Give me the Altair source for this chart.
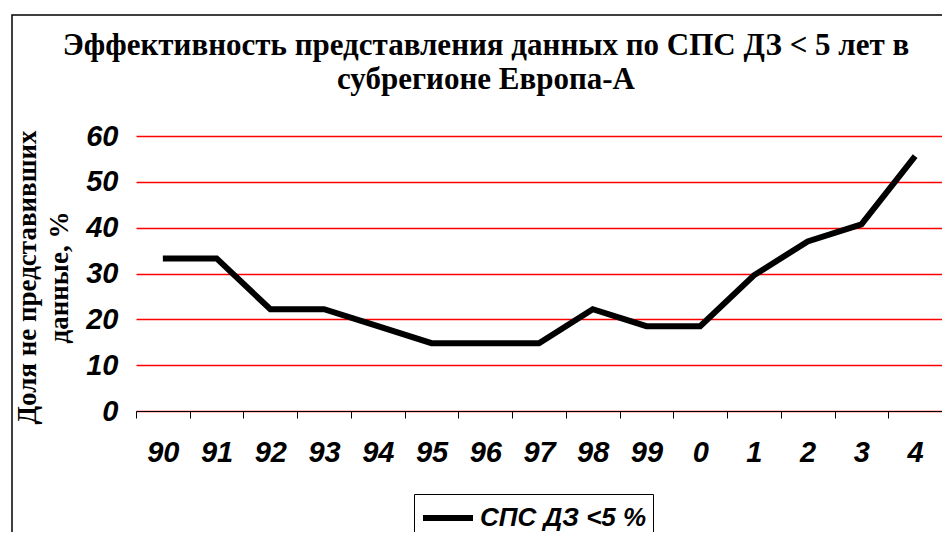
import altair as alt
import pandas as pd

years = ["90", "91", "92", "93", "94", "95", "96", "97", "98", "99", "0", "1", "2", "3", "4"]
values = [33.3, 33.3, 22.2, 22.2, 18.5, 14.8, 14.8, 14.8, 22.2, 18.5, 18.5, 29.6, 37.0, 40.7, 55.6]
series_name = "СПС ДЗ <5 %"
y_ticks = [0, 10, 20, 30, 40, 50, 60]

title_lines = ["Эффективность представления данных по СПС ДЗ < 5 лет в", "субрегионе Европа-А"]
y_title_lines = ["Доля не представивших", "данные, %"]

df = pd.DataFrame({"year": years, "value": values, "series": [series_name] * len(years)})

sans = "Liberation Sans"
serif = "Liberation Serif"

frame = alt.Chart(alt.Data(values=[{}])).mark_rect(
    fill=None, fillOpacity=0, stroke="black", strokeWidth=1.5
).encode(
    x=alt.value(-124), x2=alt.value(1000), y=alt.value(-121), y2=alt.value(600)
)

line = alt.Chart(df).mark_line(strokeWidth=6, color="black", strokeJoin="miter").encode(
    x=alt.X(
        "year:N",
        sort=years,
        bandPosition=0.5,
        scale=alt.Scale(type="band", paddingInner=0, paddingOuter=0),
        axis=alt.Axis(
            title=None,
            labelAngle=0,
            tickBand="extent",
            domainColor="black",
            domainWidth=1,
            tickColor="black",
            tickSize=7,
            labelFont=sans,
            labelFontSize=29,
            labelFontWeight="bold",
            labelFontStyle="italic",
            labelColor="black",
            labelPadding=20,
            grid=False,
        ),
    ),
    y=alt.Y(
        "value:Q",
        scale=alt.Scale(domain=[0, 60], nice=False),
        axis=alt.Axis(
            values=y_ticks,
            title=y_title_lines,
            titleFont=serif,
            titleFontSize=27,
            titleFontWeight="bold",
            titleColor="black",
            titleLineHeight=32,
            titleX=-109,
            titleY=141,
            titleAlign="center",
            titleBaseline="middle",
            titleAngle=-90,
            domain=False,
            ticks=False,
            grid=True,
            gridColor="#ff0000",
            gridWidth=1.4,
            labelFont=sans,
            labelFontSize=29,
            labelFontWeight="bold",
            labelFontStyle="italic",
            labelColor="black",
            labelPadding=18,
        ),
    ),
    color=alt.Color(
        "series:N",
        scale=alt.Scale(range=["black"]),
        legend=alt.Legend(
            title=None,
            orient="none",
            legendX=278,
            legendY=358,
            strokeColor="black",
            fillColor="white",
            padding=6,
            symbolType="stroke",
            symbolStrokeWidth=6,
            symbolSize=2500,
            clipHeight=36,
            labelFont=sans,
            labelFontSize=26,
            labelFontWeight="bold",
            labelFontStyle="italic",
            labelColor="black",
            labelOffset=4,
            labelLimit=400,
            labelExpr="datum.label + '  '",
        ),
    ),
)

chart = alt.layer(frame, line).properties(
    width=806,
    height=275,
    autosize="none",
    padding={"left": 128, "top": 128, "right": 0, "bottom": 121},
    title=alt.TitleParams(
        text=title_lines,
        font=serif,
        fontSize=31,
        fontWeight="bold",
        color="black",
        anchor="middle",
        dx=-53,
        offset=0,
        dy=82,
        lineHeight=34,
    ),
).configure_view(stroke=None)

chart.save("out.html", embed_options={"renderer": "svg", "actions": False})
